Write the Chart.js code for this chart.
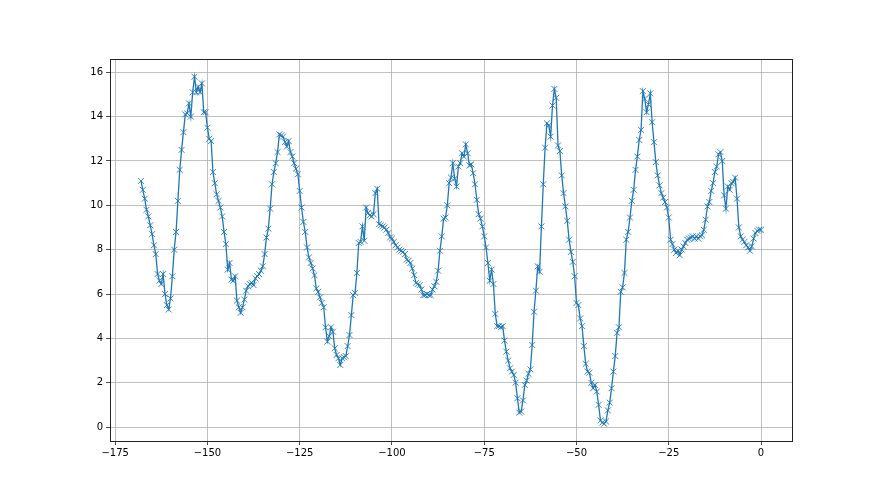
<!DOCTYPE html>
<html>
<head>
<meta charset="utf-8">
<title>Signal trace</title>
<script src="https://cdn.jsdelivr.net/npm/chart.js@4.4.1/dist/chart.umd.min.js"></script>
<style>
  html, body { margin: 0; padding: 0; background: #ffffff; }
  #wrap { width: 880px; height: 495px; }
</style>
</head>
<body>
<div id="wrap"><canvas id="traceChart" width="880" height="495"></canvas></div>
<script>
// x positions of the samples
const xValues = [
  -168, -167.5, -167, -166.5, -166, -165.5, -165, -164.5, -164, -163.5,
  -163, -162.5, -162, -161.5, -161, -160.5, -160, -159.5, -159, -158.5,
  -158, -157.5, -157, -156.5, -156, -155.5, -155, -154.5, -154, -153.5,
  -153, -152.5, -152, -151.5, -151, -150.5,
  -150, -149.5, -149, -148.5, -148, -147.5, -147, -146.5, -146, -145.5,
  -145, -144.5, -144, -143.5, -143, -142.5, -142, -141.5, -141, -140.5,
  -140, -139.5, -139, -138.5, -138, -137.5, -137, -136.5, -136, -135.5,
  -135, -134.5, -134, -133.5, -133, -132.5, -132, -131.5, -131, -130.5,
  -130, -129.5, -129, -128.5, -128, -127.5, -127, -126.5, -126, -125.5,
  -125, -124.5, -124, -123.5, -123, -122.5, -122, -121.5, -121, -120.5,
  -120, -119.5, -119, -118.5, -118, -117.5, -117, -116.5, -116, -115.5,
  -115, -114.5, -114, -113.5, -113, -112.5, -112, -111.5, -111, -110.5,
  -110, -109.5, -109, -108.5, -108, -107.5, -107, -106.5, -106, -105.5,
  -105, -104.5, -104, -103.5, -103, -102.5, -102, -101.5, -101, -100.5,
  -100, -99.5, -99, -98.5, -98, -97.5, -97, -96.5, -96, -95.5,
  -95, -94.5, -94, -93.5, -93, -92.5, -92, -91.5, -91, -90.5,
  -90, -89.5, -89, -88.5, -88, -87.5, -87, -86.5, -86, -85.5,
  -85, -84.5, -84, -83.5, -83, -82.5, -82, -81.5, -81, -80.5,
  -80, -79.5, -79, -78.5, -78, -77.5, -77, -76.5, -76, -75.5,
  -75, -74.5, -74, -73.5, -73, -72.5, -72, -71.5, -71, -70.5,
  -70, -69.5, -69, -68.5, -68, -67.5, -67, -66.5, -66, -65.5,
  -65, -64.5, -64, -63.5, -63, -62.5, -62, -61.5, -61, -60.5,
  -60, -59.5, -59, -58.5, -58, -57.5, -57, -56.5, -56, -55.5,
  -55, -54.5, -54, -53.5, -53, -52.5, -52, -51.5, -51, -50.5,
  -50, -49.5, -49, -48.5, -48, -47.5, -47, -46.5, -46, -45.5,
  -45, -44.5, -44, -43.5, -43, -42.5, -42, -41.5, -41, -40.5,
  -40, -39.5, -39, -38.5, -38, -37.5, -37, -36.5, -36, -35.5,
  -35, -34.5, -34, -33.5, -33, -32.5, -32, -31.5, -31, -30.5,
  -30, -29.5, -29, -28.5, -28, -27.5, -27, -26.5, -26, -25.5,
  -25, -24.5, -24, -23.5, -23, -22.5, -22, -21.5, -21, -20.5,
  -20, -19.5, -19, -18.5, -18, -17.5, -17, -16.5, -16, -15.5,
  -15, -14.5, -14, -13.5, -13, -12.5, -12, -11.5, -11, -10.5,
  -10, -9.5, -9, -8.5, -8, -7.5, -7, -6.5, -6, -5.5,
  -5, -4.5, -4, -3.5, -3, -2.5, -2, -1.5, -1, -0.5,
  0
];

// measured values, same order as xValues
const yValues = [
  11.1, 10.7, 10.3, 9.8, 9.5, 9.1, 8.7, 8.2, 7.8, 6.9,
  6.6, 6.45, 6.9, 6.0, 5.5, 5.3, 5.8, 6.8, 8.0, 8.8,
  10.2, 11.6, 12.5, 13.3, 14.1, 14.15, 14.6, 14.0, 15.1, 15.8,
  15.1, 15.35, 15.1, 15.5, 14.2, 14.2,
  13.5, 13.0, 12.9, 11.5, 11.0, 10.5, 10.2, 9.9, 9.5, 8.8,
  8.25, 7.1, 7.4, 6.65, 6.6, 6.8, 5.7, 5.4, 5.15, 5.4,
  5.75, 6.15, 6.35, 6.45, 6.5, 6.4, 6.7, 6.8, 6.9, 7.05,
  7.25, 7.8, 8.55, 8.95, 9.85, 10.95, 11.5, 11.9, 12.4, 13.2,
  13.15, 13.1, 12.85, 12.65, 12.9, 12.4, 12.2, 11.9, 11.65, 11.4,
  10.65, 9.9, 9.25, 8.8, 8.1, 7.65, 7.4, 7.15, 6.85, 6.25,
  6.1, 5.85, 5.6, 5.4, 4.5, 3.85, 4.1, 4.5, 4.3, 3.55,
  3.25, 3.1, 2.8, 3.1, 3.15, 3.2, 3.65, 4.15, 5.05, 5.95,
  6.05, 6.95, 8.3, 8.35, 9.05, 8.4, 9.9, 9.65, 9.55, 9.5,
  9.6, 10.55, 10.75, 9.15, 9.1, 9.05, 9.0, 8.9, 8.75, 8.55,
  8.5, 8.35, 8.2, 8.1, 8.0, 7.95, 7.9, 7.8, 7.55, 7.5,
  7.4, 7.15, 6.85, 6.5, 6.45, 6.4, 6.2, 5.95, 5.95, 6.0,
  5.95, 5.95, 6.2, 6.35, 6.55, 7.05, 7.95, 8.6, 9.4, 9.45,
  10.0, 11.0, 11.25, 11.9, 11.2, 10.85, 11.75, 11.9, 12.35, 12.2,
  12.75, 12.35, 11.8, 11.85, 11.45, 10.95, 10.25, 9.6, 9.4, 9.05,
  8.6, 8.1, 7.4, 6.6, 7.1, 6.45, 5.1, 4.55, 4.55, 4.5,
  4.55, 3.9, 3.4, 3.0, 2.65, 2.5, 2.35, 2.0, 1.3, 0.65,
  0.7, 1.2, 1.9, 2.1, 2.4, 2.6, 3.7, 5.2, 6.15, 7.25,
  7.0, 9.05, 10.95, 12.6, 13.7, 13.6, 13.1, 14.5, 15.25, 14.85,
  12.7, 12.45, 11.35, 10.55, 9.95, 9.3, 8.45, 7.9, 7.45, 6.8,
  5.6, 5.5, 4.9, 4.55, 3.65, 2.85, 2.5, 2.45, 2.0, 1.75,
  1.9, 1.6, 1.0, 0.3, 0.2, 0.15, 0.25, 0.75, 1.1, 1.75,
  2.5, 3.2, 4.25, 4.5, 6.1, 6.3, 6.95, 8.45, 8.8, 9.45,
  10.2, 10.7, 11.6, 12.2, 12.95, 13.4, 15.15, 14.8, 14.2, 14.55,
  15.05, 13.75, 12.85, 11.95, 11.35, 10.9, 10.55, 10.35, 10.15, 9.9,
  9.45, 8.45, 8.25, 8.0, 7.85, 7.95, 7.75, 8.0, 8.15, 8.3,
  8.45, 8.5, 8.55, 8.6, 8.5, 8.6, 8.5, 8.6, 8.65, 8.9,
  9.35, 9.95, 10.15, 10.65, 11.0, 11.5, 11.75, 12.3, 12.4, 12.0,
  10.45, 9.85, 10.85, 10.7, 11.0, 11.05, 11.25, 10.3, 9.0, 8.6,
  8.45, 8.35, 8.2, 8.1, 7.95, 8.15, 8.5, 8.75, 8.85, 8.9,
  8.9
];

const xTicks = [-175, -150, -125, -100, -75, -50, -25, 0];
const yTicks = [0, 2, 4, 6, 8, 10, 12, 14, 16];

const lineColor = "#1f77b4";

// matplotlib writes negatives with a real minus sign
function fmtTick(v) {
  return v < 0 ? "\u2212" + Math.abs(v) : String(v);
}

// frame round the whole plot area (top and right spines too)
const framePlugin = {
  id: "frame",
  afterDraw(chart) {
    const { ctx, chartArea: a } = chart;
    ctx.save();
    ctx.strokeStyle = "#222222";
    ctx.lineWidth = 1;
    ctx.strokeRect(Math.round(a.left) + 0.5, Math.round(a.top) + 0.5,
      Math.round(a.right - a.left), Math.round(a.bottom - a.top));
    ctx.restore();
  },
};

const points = xValues.map((x, i) => ({ x: x, y: yValues[i] }));

const tickFont = { family: "'DejaVu Sans', sans-serif", size: 10 };

new Chart(document.getElementById("traceChart").getContext("2d"), {
  type: "line",
  data: {
    datasets: [
      {
        data: points,
        borderColor: lineColor,
        borderWidth: 1.3,
        pointStyle: "crossRot",
        pointRadius: 4.2,
        pointBorderWidth: 0.9,
        pointBorderColor: lineColor,
        pointBackgroundColor: lineColor,
        tension: 0,
        fill: false,
      },
    ],
  },
  options: {
    responsive: false,
    animation: false,
    events: [],
    layout: { padding: { left: 0, right: 88, top: 59, bottom: 0 } },
    plugins: {
      legend: { display: false },
      tooltip: { enabled: false },
    },
    scales: {
      x: {
        type: "linear",
        min: -176.4,
        max: 8.4,
        afterFit: (s) => { s.height = 54; },
        afterBuildTicks: (s) => { s.ticks = xTicks.map((v) => ({ value: v })); },
        grid: {
          color: "#b0b0b0",
          lineWidth: 0.8,
          drawTicks: true,
          tickLength: 4,
          tickColor: "#222222",
        },
        border: { display: false },
        ticks: {
          color: "#000000",
          font: tickFont,
          padding: 2,
          maxRotation: 0,
          callback: (v) => fmtTick(v),
        },
      },
      y: {
        type: "linear",
        min: -0.63,
        max: 16.6,
        afterFit: (s) => { s.width = 110; },
        afterBuildTicks: (s) => { s.ticks = yTicks.map((v) => ({ value: v })); },
        grid: {
          color: "#b0b0b0",
          lineWidth: 0.8,
          drawTicks: true,
          tickLength: 4,
          tickColor: "#222222",
        },
        border: { display: false },
        ticks: {
          color: "#000000",
          font: tickFont,
          padding: 3,
          callback: (v) => fmtTick(v),
        },
      },
    },
  },
  plugins: [framePlugin],
});
</script>
</body>
</html>
